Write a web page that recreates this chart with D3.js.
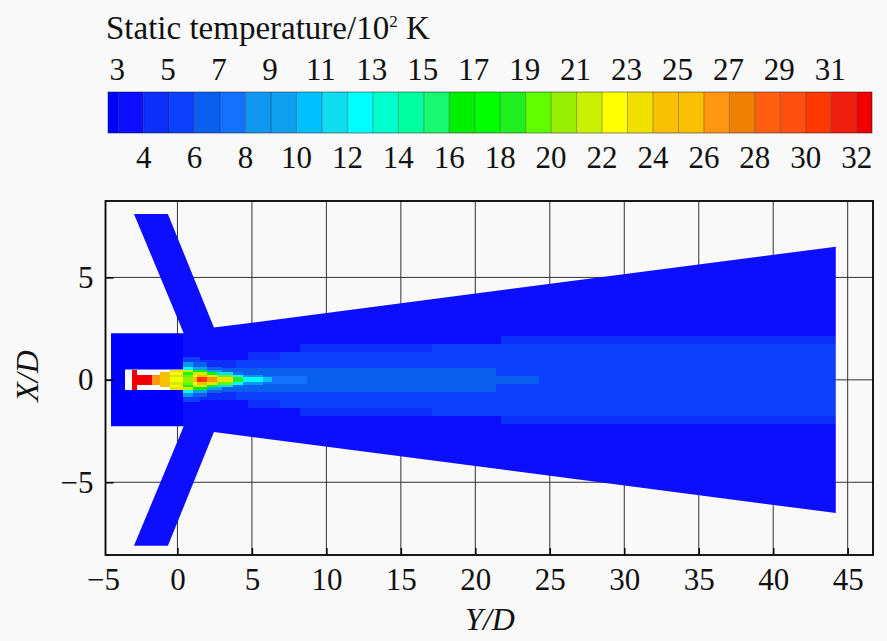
<!DOCTYPE html>
<html>

<head>
    <meta charset="utf-8" />
    <title>Static temperature</title>
    <script src="https://d3js.org/d3.v7.min.js"></script>
    <style>
        html, body {
            margin: 0;
            padding: 0;
            background: #f9f9f9;
        }

        svg {
            display: block;
            font-family: "Liberation Serif", serif;
            fill: #111;
        }
    </style>
</head>

<body>
    <svg id="chart" width="887" height="641"></svg>
    <script>
        // colour bar: one colour per temperature level
        const levels = d3.range(3, 33)
        const levelColors = ["#0000ff", "#0e0eff", "#0c30fa", "#0c40ff", "#0a60ee", "#1470ff", "#1098f0", "#10a0f0",
            "#00c0ff", "#10ddf0", "#00ffff", "#00ffcc", "#00ffa0", "#18f870", "#00f000", "#00ff00",
            "#20f020", "#60ff00", "#98ee00", "#c8f000", "#ffff00", "#f0e000", "#f8c000", "#f8c000",
            "#ff9810", "#f08000", "#ff6010", "#ff5010", "#ff3800", "#f02010", "#f00000"
        ]
        const topLabels = [3, 5, 7, 9, 11, 13, 15, 17, 19, 21, 23, 25, 27, 29, 31]
        const bottomLabels = [4, 6, 8, 10, 12, 14, 16, 18, 20, 22, 24, 26, 28, 30, 32]

        const xTicks = d3.range(-5, 50, 5)
        const yTicks = [-5, 0, 5]

        // outline of the computed domain, upper half (Y/D, X/D), mirrored for the lower half
        const domainOutline = [[-4.46, 0], [-4.46, 2.27], [0.42, 2.27], [-2.92, 8.1], [-0.64, 8.1], [2.45, 2.55], [44.2, 6.5], [44.2, 0]]
        const nozzle = [[-3.52, 0], [-3.52, 0.5], [0.4, 0.5], [0.4, 0]]

        // far field: band edges in |X/D|, then runs of [end of run in Y/D, temperature] per band
        const farEdges = [0, 0.195, 0.585, 0.976, 1.366, 1.756, 2.146, 2.27, 8.8]
        const farRuns = [
            [[0.4, 2.8], [8.67, 7.5], [23.88, 6.5], [24.3, 6], [44.2, 5.5]],
            [[0.4, 2.8], [18.4, 6.5], [21.4, 6], [44.2, 5.5]],
            [[0.4, 2.8], [3.92, 4.5], [44.2, 5.5]],
            [[0.4, 2.8], [4.75, 3.5], [6.88, 4.5], [44.2, 5.5]],
            [[0.4, 2.8], [8.22, 3.5], [17.06, 4.5], [44.2, 5.5]],
            [[0.4, 2.8], [21.75, 3.5], [44.2, 4.5]],
            [[0.4, 2.8], [44.2, 3.5]],
            [[44.2, 3.5]]
        ]

        // jet near the nozzle, null leaves the run empty
        const plumeEdges = [0, 0.12, 0.24, 0.36, 0.49, 0.65, 0.85, 1.1]
        const plumeRuns = [
            [[-3.07, null], [-1.73, 32.5], [-1.17, 26.5], [-0.5, 24.5], [0.39, 22.5], [1.06, 20.5], [1.29, 24.5], [1.96, 30.5], [2.63, 26.5], [3.75, 23], [4.42, 18], [5.76, 12.5], [6.32, 10.5]],
            [[-3.07, null], [-1.73, 32.5], [-1.17, 26.5], [-0.5, 24.5], [0.39, 21.5], [1.06, 19.5], [1.29, 22.5], [1.96, 24.5], [2.63, 23], [3.75, 19], [4.42, 12], [5.76, 8.5]],
            [[-3.07, null], [-2.74, 32.5], [-1.17, null], [-0.5, 24.5], [0.39, 22.5], [1.06, 18.5], [1.96, 21], [2.63, 17], [3.75, 11], [4.42, 7.5]],
            [[-3.07, null], [-2.74, 32.5], [-0.5, null], [0.39, 23], [1.06, 21], [1.96, 16], [3, 9], [3.92, 6.5]],
            [[0.39, null], [1.06, 12], [1.96, 9], [3, 6.5]],
            [[0.39, null], [1.06, 8.5], [1.96, 6.5]],
            [[0.39, null], [1.5, 5.5]]
        ]

        const svg = d3.select("svg#chart")

        const x = d3.scaleLinear().domain([-4.83, 46.7]).range([105.5, 873])
        const y = d3.scaleLinear().domain([8.73, -8.55]).range([201, 555])
        const barScale = d3.scaleLinear().domain([2.6, 32.6]).range([108, 872])
        const tempColor = d3.scaleThreshold().domain(levels).range(levelColors)
        const tickFormat = d => d3.format("d")(d).replace("-", "\u2212")

        // colour bar
        const barTop = 92
        const barBottom = 133
        const barEdges = [2.6, ...levels, 32.6]
        const bar = svg.append("g").attr("id", "colour-bar")
        bar.selectAll("rect.level").data(levelColors)
            .join("rect").attr("class", "level")
            .attr("x", (d, i) => barScale(barEdges[i]))
            .attr("width", (d, i) => barScale(barEdges[i + 1]) - barScale(barEdges[i]))
            .attr("y", barTop).attr("height", barBottom - barTop)
            .attr("fill", d => d)
        bar.selectAll("line.sep").data(levels)
            .join("line").attr("class", "sep")
            .attr("x1", d => barScale(d)).attr("x2", d => barScale(d))
            .attr("y1", barTop).attr("y2", barBottom)
            .attr("stroke", "#000").attr("stroke-opacity", 0.3)
        bar.append("rect")
            .attr("x", barScale(2.6)).attr("y", barTop)
            .attr("width", barScale(32.6) - barScale(2.6)).attr("height", barBottom - barTop)
            .attr("fill", "none").attr("stroke", "#000").attr("stroke-opacity", 0.45)

        bar.selectAll("text.top").data(topLabels)
            .join("text").attr("class", "top")
            .attr("x", d => barScale(d) - 1).attr("y", 80)
            .attr("text-anchor", "middle").attr("font-size", 31).text(d => d)
        bar.selectAll("text.bottom").data(bottomLabels)
            .join("text").attr("class", "bottom")
            .attr("x", d => barScale(d)).attr("y", 168)
            .attr("text-anchor", "middle").attr("font-size", 31).text(d => d)

        const title = svg.append("text").attr("x", 106).attr("y", 39).attr("font-size", 33)
        title.append("tspan").text("Static temperature/10")
        title.append("tspan").attr("font-size", 17).attr("dy", -12).text("2")
        title.append("tspan").attr("dy", 12).text(" K")

        // grid
        const grid = svg.append("g").attr("id", "grid").attr("stroke", "#333").attr("stroke-width", 1)
        grid.selectAll("line.gx").data(xTicks.slice(1))
            .join("line").attr("class", "gx")
            .attr("x1", d => x(d)).attr("x2", d => x(d))
            .attr("y1", y.range()[0]).attr("y2", y.range()[1])
        grid.selectAll("line.gy").data(yTicks)
            .join("line").attr("class", "gy")
            .attr("y1", d => y(d)).attr("y2", d => y(d))
            .attr("x1", x.range()[0]).attr("x2", x.range()[1])

        // temperature field, clipped to the domain outline
        const line = d3.line().x(d => x(d[0])).y(d => y(d[1]))
        const outlinePath = line([...domainOutline, ...domainOutline.slice().reverse().map(d => [d[0], -d[1]])]) + "Z"
        const nozzlePath = line([...nozzle, ...nozzle.slice().reverse().map(d => [d[0], -d[1]])]) + "Z"
        svg.append("clipPath").attr("id", "domain").append("path").attr("d", outlinePath)
        svg.append("filter").attr("id", "soften").append("feGaussianBlur").attr("stdDeviation", 0.6)

        const field = svg.append("g").attr("id", "field").attr("clip-path", "url(#domain)")

        function drawBands(group, edges, runs, startX) {
            runs.forEach((band, row) => {
                let from = startX
                band.forEach(run => {
                    const to = run[0]
                    const temp = run[1]
                    if (temp !== null) {
                        // mirrored about the axis
                        ;[1, -1].forEach(side => {
                            const y1 = y(side * edges[row])
                            const y2 = y(side * edges[row + 1])
                            group.append("rect")
                                .attr("x", x(from)).attr("width", x(to) - x(from))
                                .attr("y", Math.min(y1, y2)).attr("height", Math.abs(y2 - y1))
                                .attr("fill", tempColor(temp))
                                .attr("shape-rendering", "crispEdges")
                        })
                    }
                    from = to
                })
            })
        }

        drawBands(field, farEdges, farRuns, -4.6)
        field.append("path").attr("d", nozzlePath).attr("fill", "#fbfbfb")
        drawBands(field.append("g").attr("filter", "url(#soften)"), plumeEdges, plumeRuns, -3.52)

        // axes, ticks point inward
        const xAxis = d3.axisBottom(x).tickValues(xTicks).tickSize(-7).tickPadding(13).tickFormat(tickFormat)
        const yAxis = d3.axisLeft(y).tickValues(yTicks).tickSize(-8).tickPadding(12).tickFormat(tickFormat)

        const gx = svg.append("g").attr("transform", `translate(0, ${y.range()[1]})`).call(xAxis)
        const gy = svg.append("g").attr("transform", `translate(${x.range()[0]}, 0)`).call(yAxis)
        ;[gx, gy].forEach(g => {
            g.selectAll("text").attr("font-size", 31).attr("font-family", "Liberation Serif").attr("fill", "#111")
            g.selectAll("line").attr("stroke", "#000").attr("stroke-width", 1.5)
            g.select(".domain").remove()
        })
        // the -5 tick sits just outside the frame, only its label is kept
        gx.selectAll(".tick line").filter(d => d === -5).remove()

        svg.append("rect").attr("id", "frame")
            .attr("x", x.range()[0]).attr("y", y.range()[0])
            .attr("width", x.range()[1] - x.range()[0]).attr("height", y.range()[1] - y.range()[0])
            .attr("fill", "none").attr("stroke", "#000").attr("stroke-width", 1.8)

        svg.append("text").attr("x", 490).attr("y", 630)
            .attr("text-anchor", "middle").attr("font-size", 32).attr("font-style", "italic")
            .text("Y/D")
        svg.append("text")
            .attr("transform", "translate(38, 376) rotate(-90)")
            .attr("text-anchor", "middle").attr("font-size", 32).attr("font-style", "italic")
            .text("X/D")
    </script>
</body>

</html>
